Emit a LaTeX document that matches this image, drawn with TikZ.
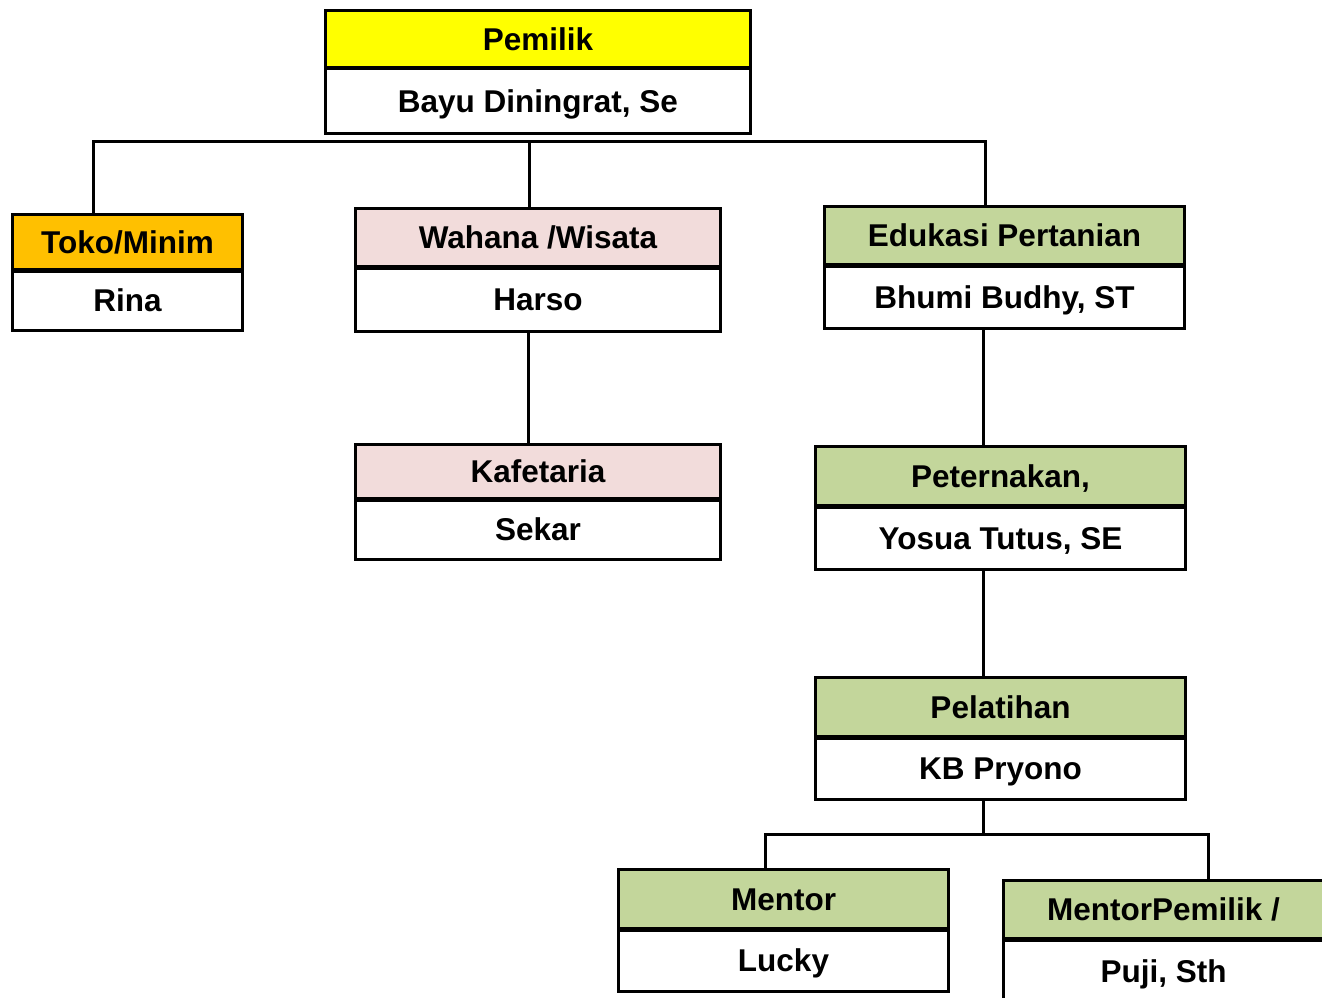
\documentclass[tikz,border=0pt]{standalone}
\usepackage{fontspec}
\setmainfont{Liberation Sans}
\definecolor{hdYellow}{HTML}{FFFF00}
\definecolor{hdOrange}{HTML}{FFC000}
\definecolor{hdPink}{HTML}{F2DCDB}
\definecolor{hdGreen}{HTML}{C3D69B}
\tikzset{
  orgtext/.style={font=\bfseries\fontsize{31.5}{36}\selectfont, text height=22.5pt, text depth=0pt, inner sep=0pt, align=center},
  hdr/.style={orgtext, draw=black, line width=3pt, anchor=north west},
  bdy/.style={orgtext, draw=black, line width=3pt, fill=white},
  conn/.style={draw=black, line width=3pt}
}
\newcommand\orgbox[9]{%
  \node[hdr, fill=#7, minimum width=#4pt, minimum height=#5pt] (#1h) at (#2,#3) {#8};
  \node[bdy, minimum width=#4pt, minimum height=#6pt, anchor=north] (#1b) at ([yshift=1.5pt]#1h.south) {#9};
}
\begin{document}
\begin{tikzpicture}[x=1pt,y=-1pt]
\clip (0,0) rectangle (1322,998);
\fill[white] (0,0) rectangle (1322,998);
\orgbox{pem}{324}{9}{425}{57}{64}{hdYellow}{Pemilik}{Bayu Diningrat, Se}
\orgbox{toko}{11}{213}{230}{55}{59}{hdOrange}{Toko/Minim}{Rina}
\orgbox{wah}{354}{207}{365}{58}{63}{hdPink}{Wahana /Wisata}{Harso}
\orgbox{kaf}{354}{443}{365}{54}{59}{hdPink}{Kafetaria}{Sekar}
\orgbox{edu}{823}{205}{360}{58}{62}{hdGreen}{Edukasi Pertanian}{Bhumi Budhy, ST}
\orgbox{pet}{814}{445}{370}{59}{62}{hdGreen}{Peternakan,}{Yosua Tutus, SE}
\orgbox{pel}{814}{676}{370}{59}{61}{hdGreen}{Pelatihan}{KB Pryono}
\orgbox{men}{617}{868}{330}{59}{61}{hdGreen}{Mentor}{Lucky}
\orgbox{mp}{1002}{879}{320}{58}{63}{hdGreen}{MentorPemilik /}{Puji, Sth}
% connectors
\coordinate (busL) at (93,141);
\coordinate (busW) at (529,141);
\coordinate (busR) at (985,141);
\coordinate (chainX) at (983,0);
\coordinate (wahX) at (528,0);
\coordinate (b2L) at (765,834);
\coordinate (b2M) at (983,834);
\coordinate (b2R) at (1208,834);
\draw[conn] (tokoh.north -| busL) -- (busL) -- (busR) -- (eduh.north -| busR);
\draw[conn] (busW) -- (wahh.north -| busW);
\draw[conn] (wahb.south -| wahX) -- (kafh.north -| wahX);
\draw[conn] (edub.south -| chainX) -- (peth.north -| chainX);
\draw[conn] (petb.south -| chainX) -- (pelh.north -| chainX);
\draw[conn] (pelb.south -| b2M) -- (b2M);
\draw[conn] (menh.north -| b2L) -- (b2L) -- (b2R) -- (mph.north -| b2R);
\end{tikzpicture}
\end{document}
